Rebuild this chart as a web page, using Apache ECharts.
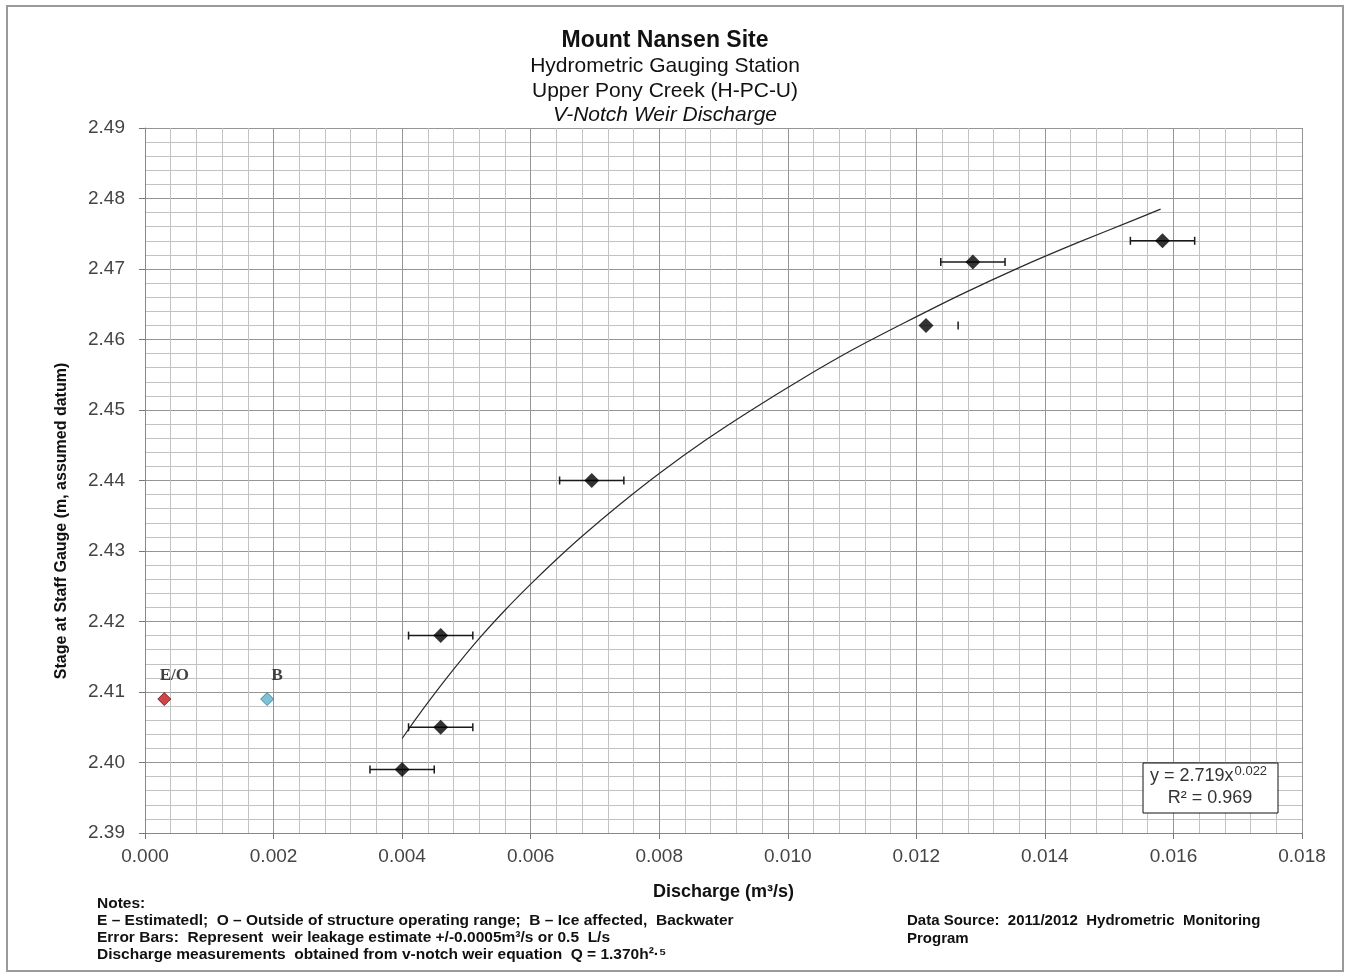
<!DOCTYPE html>
<html>
<head>
<meta charset="utf-8">
<title>Mount Nansen Site - V-Notch Weir Discharge</title>
<script src="https://cdn.jsdelivr.net/npm/echarts@6/dist/echarts.min.js"></script>
<style>
html,body{margin:0;padding:0;background:#fff;}
#main{width:1350px;height:977px;}
</style>
</head>
<body>
<div id="main"></div>
<script>
// measurements: discharge (m3/s) vs stage (m)
var discharge = [0.0040, 0.0046, 0.0046, 0.00695, 0.01215, 0.01288, 0.01583];
var stage = [2.399, 2.405, 2.418, 2.440, 2.462, 2.471, 2.474];
// which part of the error bar shows (one point only has its right cap)
var errShown = [1, 1, 1, 1, 0, 1, 1];
var errHalf = 0.0005;

// flagged points (not in the fit)
var flagQ = [0.0003, 0.0019];
var flagH = [2.409, 2.409];
var flagText = ['E/O', 'B'];

// power trend line
var trendQ = [0.0040, 0.0042, 0.0044, 0.0048, 0.0052, 0.0056, 0.0060, 0.0064, 0.0068, 0.0074, 0.0080, 0.0087, 0.0094, 0.0102, 0.0110, 0.0118, 0.0127, 0.0136, 0.0145, 0.0154, 0.0158];
var trendH = [2.4034, 2.4060, 2.4085, 2.4132, 2.4176, 2.4216, 2.4253, 2.4288, 2.4321, 2.4367, 2.4410, 2.4456, 2.4498, 2.4543, 2.4585, 2.4623, 2.4664, 2.4702, 2.4737, 2.4770, 2.4785];

// axis ticks
var xTicks = [0.000, 0.002, 0.004, 0.006, 0.008, 0.010, 0.012, 0.014, 0.016, 0.018];
var yTicks = [2.39, 2.40, 2.41, 2.42, 2.43, 2.44, 2.45, 2.46, 2.47, 2.48, 2.49];

var chart = echarts.init(document.getElementById('main'));

var pts = discharge.map(function(q, i){ return [q, stage[i]]; });
var errData = discharge.map(function(q, i){ return [q - errHalf, q + errHalf, stage[i], errShown[i]]; });
var trendData = trendQ.map(function(q, i){ return [q, trendH[i]]; });
var flagColors = [['#c0161c', '#6e0b0e'], ['#5ab4c9', '#2a7488']];
var flagData = flagQ.map(function(q, i){
	return {
		value: [q, flagH[i]],
		name: flagText[i],
		itemStyle: {color: flagColors[i][0], borderColor: flagColors[i][1], borderWidth: 1}
	};
});

var txt = function(text, x, y, font, align, fill, z){
	return {
		type: 'text', x: x, y: y, silent: true, z: z || 0,
		style: {text: text, font: font, fill: fill || '#000', textAlign: align || 'left', textVerticalAlign: 'middle'}
	};
};

var noteFont = 'bold 15.5px "Liberation Sans Narrow", "Liberation Sans", sans-serif';
var srcFont = 'bold 15px "Liberation Sans", sans-serif';

var option = {
	backgroundColor: '#fff',
	animation: false,
	grid: {left: 145, right: 48, top: 128, bottom: 144},
	xAxis: {
		type: 'value',
		min: xTicks[0],
		max: xTicks[xTicks.length - 1],
		interval: 0.002,
		name: 'Discharge (m³/s)',
		nameLocation: 'middle',
		nameGap: 50,
		nameTextStyle: {fontFamily: 'Liberation Sans', fontWeight: 'bold', fontSize: 18, color: '#111'},
		axisLine: {show: true, lineStyle: {color: '#888', width: 1}},
		axisTick: {show: true, length: 6, lineStyle: {color: '#777'}},
		axisLabel: {
			fontFamily: 'Liberation Sans', fontSize: 19, color: '#444', margin: 14,
			formatter: function(v){ return v.toFixed(3); }
		},
		splitLine: {show: true, lineStyle: {color: '#959595', width: 1}},
		minorTick: {show: false, splitNumber: 5},
		minorSplitLine: {show: true, lineStyle: {color: '#c2c2c2', width: 1}}
	},
	yAxis: {
		type: 'value',
		min: yTicks[0],
		max: yTicks[yTicks.length - 1],
		interval: 0.01,
		axisLine: {show: true, lineStyle: {color: '#888', width: 1}},
		axisTick: {show: true, length: 6, lineStyle: {color: '#777'}},
		axisLabel: {
			fontFamily: 'Liberation Sans', fontSize: 19, color: '#444', margin: 20,
			formatter: function(v){ return v.toFixed(2); }
		},
		splitLine: {show: true, lineStyle: {color: '#959595', width: 1}},
		minorTick: {show: false, splitNumber: 5},
		minorSplitLine: {show: true, lineStyle: {color: '#c2c2c2', width: 1}}
	},
	series: [
		{
			name: 'trend',
			type: 'line',
			data: trendData,
			smooth: 0.2,
			showSymbol: false,
			lineStyle: {color: '#2a2a2a', width: 1.2},
			z: 3
		},
		{
			name: 'error',
			type: 'custom',
			data: errData,
			encode: {x: [0, 1], y: 2},
			renderItem: function(params, api){
				var lo = api.coord([api.value(0), api.value(2)]);
				var hi = api.coord([api.value(1), api.value(2)]);
				var cap = 4;
				var st = {stroke: '#1a1a1a', lineWidth: 1.5};
				var kids = [];
				if (api.value(3) === 1) {
					kids.push({type: 'line', shape: {x1: lo[0], y1: lo[1], x2: hi[0], y2: hi[1]}, style: st});
					kids.push({type: 'line', shape: {x1: lo[0], y1: lo[1] - cap, x2: lo[0], y2: lo[1] + cap}, style: st});
				}
				kids.push({type: 'line', shape: {x1: hi[0], y1: hi[1] - cap, x2: hi[0], y2: hi[1] + cap}, style: st});
				return {type: 'group', children: kids};
			},
			z: 4
		},
		{
			name: 'measured',
			type: 'scatter',
			data: pts,
			symbol: 'diamond',
			symbolSize: 15,
			itemStyle: {color: '#000'},
			z: 5
		},
		{
			name: 'flagged',
			type: 'scatter',
			data: flagData,
			symbol: 'diamond',
			symbolSize: 13,
			label: {
				show: true,
				position: 'top',
				distance: 8,
				offset: [10, 0],
				formatter: '{b}',
				fontFamily: 'Liberation Serif',
				fontWeight: 'bold',
				fontSize: 17,
				color: '#111'
			},
			z: 5
		}
	],
	graphic: [
		{type: 'rect', silent: true, shape: {x: 7, y: 6, width: 1336, height: 965}, style: {fill: 'none', stroke: '#9a9a9a', lineWidth: 2}},
		txt('Mount Nansen Site', 665, 41, 'bold 23px "Liberation Sans"', 'center', '#111'),
		txt('Hydrometric Gauging Station', 665, 66, '21px "Liberation Sans"', 'center', '#111'),
		txt('Upper Pony Creek (H-PC-U)', 665, 91, '21px "Liberation Sans"', 'center', '#111'),
		txt('V-Notch Weir Discharge', 665, 115, 'italic 21px "Liberation Sans"', 'center', '#111'),
		{
			type: 'text', silent: true, x: 62, y: 521, rotation: Math.PI / 2,
			style: {text: 'Stage at Staff Gauge (m, assumed datum)', font: 'bold 16px "Liberation Sans"', fill: '#111', textAlign: 'center', textVerticalAlign: 'middle'}
		},
		{type: 'rect', silent: true, shape: {x: 1143, y: 763, width: 135, height: 50}, style: {fill: '#fff', stroke: '#111', lineWidth: 1}, z: 10},
		{
			type: 'text', silent: true, x: 1150, y: 776, z: 11,
			style: {
				text: '{a|y = 2.719x}{b|0.022}',
				textVerticalAlign: 'middle',
				rich: {
					a: {font: '18px "Liberation Sans"', fill: '#333', lineHeight: 22},
					b: {font: '13px "Liberation Sans"', fill: '#333', verticalAlign: 'top', lineHeight: 22, padding: [0, 0, 8, 1]}
				}
			}
		},
		txt('R² = 0.969', 1210, 798, '18px "Liberation Sans"', 'center', '#333', 11),
		txt('Notes:', 97, 904, noteFont, 'left', '#111'),
		txt('E \u2013 Estimatedl;  O \u2013 Outside of structure operating range;  B \u2013 Ice affected,  Backwater', 97, 921, noteFont, 'left', '#111'),
		txt('Error Bars:  Represent  weir leakage estimate +/-0.0005m³/s or 0.5  L/s', 97, 938, noteFont, 'left', '#111'),
		txt('Discharge measurements  obtained from v-notch weir equation  Q = 1.370h²·⁵', 97, 955, noteFont, 'left', '#111'),
		txt('Data Source:  2011/2012  Hydrometric  Monitoring', 907, 921, srcFont, 'left', '#111'),
		txt('Program', 907, 939, srcFont, 'left', '#111')
	]
};

chart.setOption(option);
</script>
</body>
</html>
